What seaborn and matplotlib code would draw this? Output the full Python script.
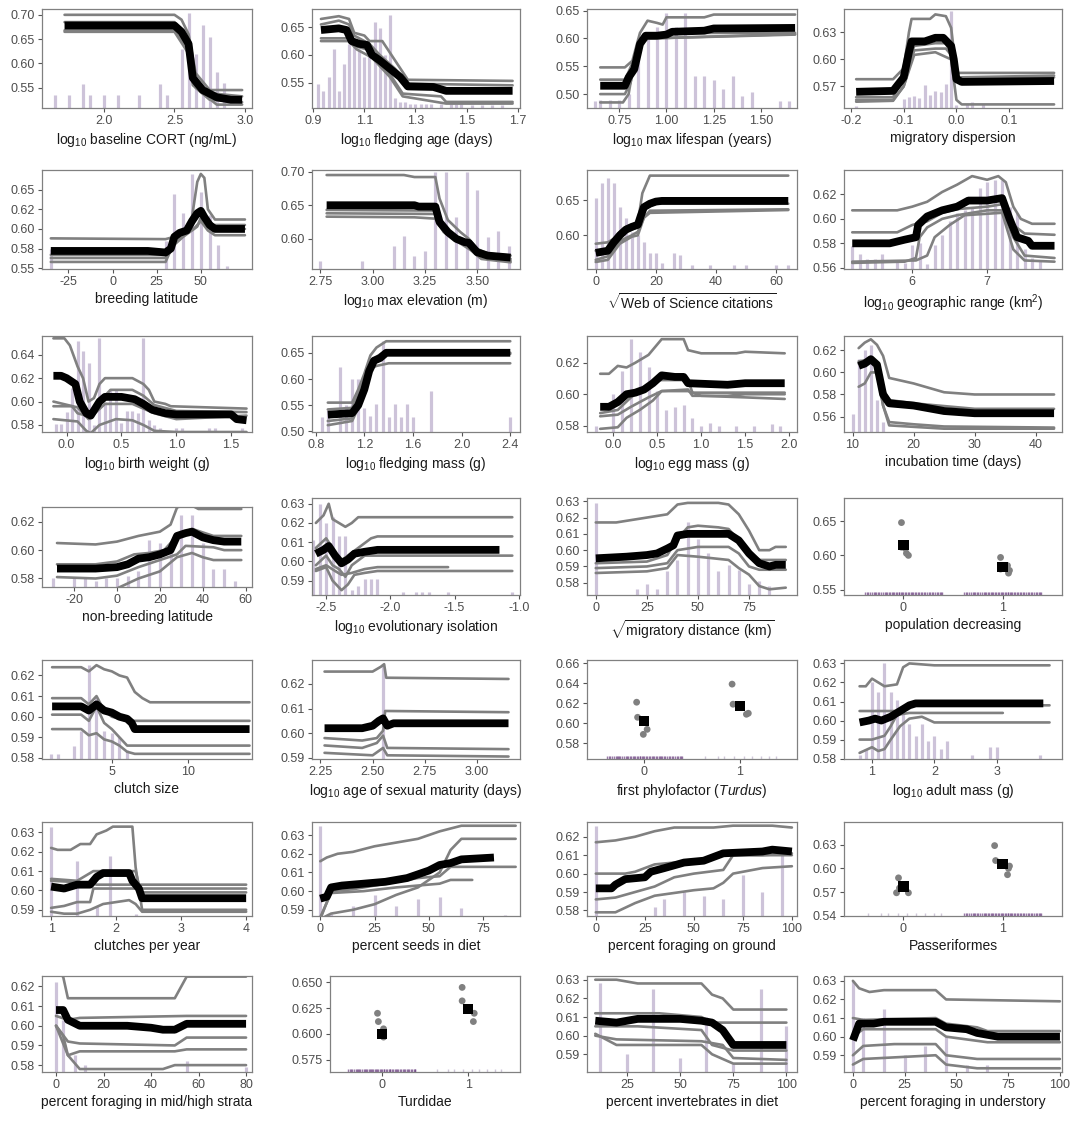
import numpy as np
import pandas as pd
import matplotlib
matplotlib.use("Agg")
import matplotlib.pyplot as plt
import seaborn as sns

sns.set_style("white")
plt.rcParams['font.family'] = ['Liberation Sans', 'DejaVu Sans']
plt.rcParams['mathtext.fontset'] = 'custom'
plt.rcParams['mathtext.rm'] = 'Liberation Sans'
plt.rcParams['mathtext.it'] = 'Liberation Sans:italic'
plt.rcParams['mathtext.bf'] = 'Liberation Sans:bold'

# ---------------- data ----------------
# each continuous panel: histogram bars (x, top), bootstrap curves (gray), mean curve (black)

cort_bars_x = [1.65, 1.75, 1.85, 1.9, 2.0, 2.1, 2.25, 2.4, 2.45, 2.55, 2.6, 2.65, 2.7, 2.75, 2.8, 2.85]
cort_bars_y = [0.535, 0.535, 0.558, 0.535, 0.535, 0.535, 0.535, 0.558, 0.535, 0.63, 0.703, 0.62, 0.679, 0.655, 0.582, 0.559]
cort_mean = [(1.72, 0.678), (2.5, 0.678), (2.55, 0.665), (2.6, 0.64), (2.63, 0.57), (2.7, 0.545), (2.8, 0.53), (2.9, 0.525), (2.98, 0.525)]
cort_reps = [
    [(1.72, 0.70), (2.5, 0.70), (2.55, 0.69), (2.6, 0.66), (2.65, 0.58), (2.75, 0.545), (2.98, 0.545)],
    [(1.72, 0.685), (2.5, 0.685), (2.6, 0.65), (2.63, 0.56), (2.7, 0.54), (2.98, 0.532)],
    [(1.72, 0.668), (2.5, 0.668), (2.6, 0.63), (2.63, 0.555), (2.75, 0.525), (2.98, 0.52)],
    [(1.72, 0.665), (2.5, 0.665), (2.6, 0.62), (2.65, 0.55), (2.8, 0.515), (2.98, 0.515)],
]

fage_bars_x = [0.92, 0.94, 0.96, 0.98, 1.0, 1.02, 1.04, 1.06, 1.08, 1.1, 1.12, 1.14, 1.16, 1.18, 1.2, 1.22, 1.24, 1.26, 1.28, 1.3, 1.32, 1.34, 1.36, 1.4, 1.44, 1.46, 1.48, 1.52, 1.56, 1.6, 1.64]
fage_bars_y = [0.548, 0.535, 0.56, 0.61, 0.535, 0.583, 0.62, 0.625, 0.61, 0.597, 0.612, 0.66, 0.648, 0.60, 0.672, 0.522, 0.515, 0.515, 0.512, 0.512, 0.512, 0.512, 0.512, 0.512, 0.512, 0.512, 0.512, 0.51, 0.51, 0.51, 0.51]
fage_mean = [(0.93, 0.645), (1.0, 0.648), (1.03, 0.645), (1.05, 0.625), (1.08, 0.62), (1.11, 0.618), (1.13, 0.60), (1.16, 0.59), (1.2, 0.575), (1.24, 0.56), (1.27, 0.543), (1.37, 0.542), (1.42, 0.535), (1.68, 0.535)]
fage_reps = [
    [(0.93, 0.665), (1.0, 0.67), (1.04, 0.665), (1.06, 0.64), (1.1, 0.635), (1.12, 0.625), (1.17, 0.625), (1.22, 0.59), (1.27, 0.555), (1.68, 0.553)],
    [(0.93, 0.655), (1.0, 0.662), (1.04, 0.655), (1.06, 0.635), (1.12, 0.62), (1.16, 0.60), (1.22, 0.575), (1.27, 0.548), (1.68, 0.545)],
    [(0.93, 0.63), (1.04, 0.63), (1.07, 0.615), (1.11, 0.61), (1.15, 0.59), (1.2, 0.565), (1.25, 0.53), (1.4, 0.525), (1.42, 0.515), (1.68, 0.515)],
    [(0.93, 0.625), (1.04, 0.625), (1.07, 0.61), (1.13, 0.595), (1.2, 0.56), (1.25, 0.525), (1.42, 0.512), (1.68, 0.512)],
]

life_bars_x = [0.62, 0.65, 0.7, 0.75, 0.8, 0.85, 0.9, 0.95, 1.0, 1.05, 1.1, 1.15, 1.2, 1.25, 1.3, 1.35, 1.4, 1.45, 1.6, 1.65]
life_bars_y = [0.487, 0.49, 0.49, 0.49, 0.50, 0.60, 0.61, 0.62, 0.645, 0.62, 0.645, 0.532, 0.532, 0.525, 0.51, 0.533, 0.497, 0.503, 0.488, 0.488]
life_mean = [(0.65, 0.515), (0.78, 0.515), (0.8, 0.53), (0.83, 0.545), (0.86, 0.59), (0.89, 0.605), (0.95, 0.605), (1.0, 0.607), (1.03, 0.612), (1.2, 0.614), (1.25, 0.618), (1.68, 0.619)]
life_reps = [
    [(0.65, 0.548), (0.78, 0.548), (0.82, 0.56), (0.86, 0.61), (0.9, 0.632), (0.95, 0.628), (0.98, 0.625), (1.0, 0.638), (1.2, 0.638), (1.25, 0.643), (1.68, 0.643)],
    [(0.65, 0.526), (0.78, 0.526), (0.8, 0.54), (0.85, 0.58), (0.88, 0.60), (1.0, 0.605), (1.05, 0.61), (1.68, 0.61)],
    [(0.65, 0.50), (0.78, 0.50), (0.81, 0.52), (0.85, 0.585), (0.9, 0.60), (1.68, 0.607)],
    [(0.65, 0.485), (0.77, 0.485), (0.8, 0.50), (0.84, 0.58), (0.9, 0.60), (1.68, 0.608)],
]

mdisp_bars_x = [-0.19, -0.1, -0.09, -0.08, -0.07, -0.06, -0.05, -0.04, -0.03, -0.02, -0.01, 0.0, 0.02, 0.03, 0.05]
mdisp_bars_y = [0.548, 0.556, 0.558, 0.559, 0.557, 0.572, 0.561, 0.565, 0.564, 0.573, 0.654, 0.549, 0.551, 0.553, 0.55]
mdisp_mean = [(-0.19, 0.564), (-0.12, 0.565), (-0.1, 0.58), (-0.09, 0.608), (-0.085, 0.62), (-0.06, 0.62), (-0.04, 0.624), (-0.025, 0.624), (-0.01, 0.615), (-0.005, 0.60), (0.0, 0.578), (0.01, 0.575), (0.185, 0.576)]
mdisp_reps = [
    [(-0.19, 0.578), (-0.12, 0.578), (-0.1, 0.59), (-0.09, 0.63), (-0.085, 0.645), (-0.05, 0.645), (-0.04, 0.65), (-0.02, 0.648), (-0.01, 0.635), (0.0, 0.585), (0.185, 0.585)],
    [(-0.19, 0.558), (-0.12, 0.558), (-0.1, 0.58), (-0.08, 0.615), (-0.04, 0.618), (-0.02, 0.618), (-0.01, 0.605), (0.0, 0.58), (0.185, 0.582)],
    [(-0.19, 0.555), (-0.12, 0.555), (-0.1, 0.57), (-0.08, 0.61), (-0.04, 0.612), (-0.02, 0.612), (-0.01, 0.605), (0.0, 0.578), (0.185, 0.580)],
    [(-0.19, 0.553), (-0.12, 0.554), (-0.1, 0.57), (-0.08, 0.605), (-0.04, 0.608), (-0.01, 0.60), (0.0, 0.555), (0.01, 0.550), (0.185, 0.550)],
]

blat_bars_x = [-35, 30, 35, 40, 45, 50, 55, 60, 65]
blat_bars_y = [0.575, 0.585, 0.645, 0.62, 0.67, 0.647, 0.618, 0.58, 0.553]
blat_mean = [(-35, 0.572), (20, 0.572), (30, 0.570), (33, 0.575), (35, 0.59), (38, 0.595), (42, 0.598), (45, 0.61), (48, 0.62), (50, 0.623), (52, 0.615), (55, 0.605), (58, 0.600), (75, 0.600)]
blat_reps = [
    [(-35, 0.588), (30, 0.587), (35, 0.59), (40, 0.595), (45, 0.615), (48, 0.66), (50, 0.67), (52, 0.665), (54, 0.625), (58, 0.612), (75, 0.612)],
    [(-35, 0.567), (30, 0.567), (35, 0.585), (40, 0.598), (45, 0.605), (50, 0.623), (53, 0.615), (57, 0.605), (75, 0.605)],
    [(-35, 0.563), (30, 0.563), (34, 0.58), (40, 0.592), (46, 0.6), (50, 0.61), (54, 0.598), (58, 0.592), (75, 0.592)],
    [(-35, 0.558), (30, 0.558), (34, 0.578), (40, 0.59), (48, 0.603), (51, 0.62), (55, 0.6), (58, 0.6), (75, 0.6)],
]

elev_bars_x = [2.75, 2.95, 3.1, 3.15, 3.2, 3.25, 3.3, 3.35, 3.4, 3.45, 3.5, 3.55, 3.6, 3.65]
elev_bars_y = [0.567, 0.567, 0.589, 0.604, 0.575, 0.582, 0.70, 0.70, 0.633, 0.70, 0.672, 0.603, 0.611, 0.59]
elev_mean = [(2.78, 0.65), (3.2, 0.65), (3.22, 0.648), (3.3, 0.648), (3.32, 0.625), (3.36, 0.61), (3.4, 0.60), (3.44, 0.595), (3.46, 0.594), (3.5, 0.58), (3.55, 0.575), (3.66, 0.572)]
elev_reps = [
    [(2.78, 0.695), (3.15, 0.695), (3.2, 0.692), (3.3, 0.692), (3.32, 0.66), (3.36, 0.628), (3.42, 0.61), (3.46, 0.60), (3.5, 0.585), (3.55, 0.578), (3.66, 0.575)],
    [(2.78, 0.643), (3.3, 0.642), (3.32, 0.62), (3.38, 0.605), (3.45, 0.595), (3.5, 0.58), (3.66, 0.57)],
    [(2.78, 0.638), (3.3, 0.637), (3.34, 0.618), (3.4, 0.60), (3.46, 0.59), (3.5, 0.575), (3.66, 0.567)],
    [(2.78, 0.633), (3.2, 0.632), (3.3, 0.630), (3.34, 0.61), (3.4, 0.597), (3.47, 0.583), (3.52, 0.57), (3.66, 0.565)],
]

wos_bars_x = [0, 2, 4, 6, 8, 10, 12, 14, 16, 18, 20, 22, 26, 28, 32, 38, 46, 50, 60, 64]
wos_bars_y = [0.653, 0.675, 0.682, 0.675, 0.64, 0.625, 0.605, 0.60, 0.59, 0.575, 0.575, 0.56, 0.575, 0.572, 0.558, 0.558, 0.558, 0.558, 0.558, 0.558]
wos_mean = [(0, 0.575), (4, 0.578), (6, 0.59), (8, 0.60), (10, 0.608), (12, 0.612), (14, 0.615), (15, 0.628), (16, 0.64), (18, 0.645), (20, 0.648), (22, 0.649), (64, 0.649)]
wos_reps = [
    [(0, 0.588), (4, 0.59), (6, 0.595), (8, 0.605), (10, 0.612), (14, 0.618), (15.5, 0.66), (17, 0.675), (18, 0.685), (64, 0.685)],
    [(0, 0.578), (4, 0.58), (6, 0.59), (9, 0.603), (12, 0.608), (14, 0.612), (15.5, 0.63), (17, 0.64), (20, 0.645), (64, 0.645)],
    [(0, 0.565), (4, 0.57), (8, 0.592), (12, 0.60), (14, 0.605), (16, 0.625), (18, 0.635), (64, 0.637)],
    [(0, 0.562), (4, 0.565), (8, 0.588), (12, 0.598), (14, 0.60), (16, 0.625), (18, 0.632), (64, 0.636)],
]

grange_bars_x = [5.2, 5.3, 5.4, 5.5, 5.6, 5.8, 5.9, 6.0, 6.1, 6.2, 6.3, 6.4, 6.5, 6.6, 6.7, 6.8, 6.9, 7.0, 7.1, 7.2, 7.3, 7.4, 7.5, 7.6, 7.7]
grange_bars_y = [0.578, 0.571, 0.567, 0.567, 0.571, 0.566, 0.564, 0.579, 0.58, 0.563, 0.579, 0.587, 0.598, 0.605, 0.607, 0.61, 0.625, 0.63, 0.632, 0.632, 0.61, 0.605, 0.575, 0.568, 0.566]
grange_mean = [(5.2, 0.58), (5.7, 0.58), (5.9, 0.583), (6.05, 0.585), (6.08, 0.595), (6.2, 0.602), (6.4, 0.607), (6.6, 0.61), (6.75, 0.615), (7.0, 0.615), (7.2, 0.617), (7.3, 0.60), (7.4, 0.585), (7.55, 0.582), (7.6, 0.578), (7.9, 0.578)]
grange_reps = [
    [(5.2, 0.607), (5.8, 0.607), (6.0, 0.61), (6.2, 0.614), (6.4, 0.622), (6.6, 0.628), (6.8, 0.635), (7.0, 0.632), (7.15, 0.635), (7.25, 0.63), (7.35, 0.61), (7.45, 0.6), (7.6, 0.596), (7.9, 0.596)],
    [(5.2, 0.589), (5.8, 0.589), (6.0, 0.595), (6.2, 0.598), (6.4, 0.605), (6.6, 0.608), (7.0, 0.61), (7.2, 0.612), (7.35, 0.595), (7.5, 0.588), (7.9, 0.587)],
    [(5.2, 0.564), (5.9, 0.565), (6.05, 0.568), (6.1, 0.585), (6.2, 0.593), (6.4, 0.6), (6.6, 0.603), (7.0, 0.607), (7.2, 0.607), (7.35, 0.585), (7.5, 0.57), (7.9, 0.568)],
    [(5.2, 0.565), (6.05, 0.566), (6.2, 0.57), (6.3, 0.585), (6.5, 0.595), (6.7, 0.603), (7.2, 0.605), (7.35, 0.575), (7.5, 0.566), (7.9, 0.565)],
]

bw_bars_x = [-0.1, -0.05, 0.0, 0.05, 0.1, 0.15, 0.2, 0.25, 0.3, 0.35, 0.4, 0.45, 0.5, 0.55, 0.6, 0.65, 0.7, 0.75, 0.8, 0.85, 1.0, 1.05, 1.3, 1.35, 1.6]
bw_bars_y = [0.581, 0.581, 0.591, 0.612, 0.652, 0.643, 0.633, 0.58, 0.654, 0.60, 0.61, 0.61, 0.582, 0.592, 0.592, 0.59, 0.654, 0.584, 0.58, 0.577, 0.577, 0.577, 0.577, 0.577, 0.577]
bw_mean = [(-0.12, 0.622), (-0.05, 0.622), (0.0, 0.62), (0.08, 0.615), (0.12, 0.60), (0.18, 0.59), (0.22, 0.588), (0.3, 0.6), (0.35, 0.604), (0.5, 0.604), (0.62, 0.602), (0.7, 0.598), (0.78, 0.593), (0.9, 0.590), (1.0, 0.589), (1.5, 0.589), (1.55, 0.585), (1.64, 0.584)]
bw_reps = [
    [(-0.12, 0.654), (-0.02, 0.654), (0.03, 0.648), (0.1, 0.63), (0.15, 0.62), (0.2, 0.60), (0.25, 0.603), (0.3, 0.615), (0.35, 0.62), (0.6, 0.62), (0.7, 0.615), (0.75, 0.61), (0.8, 0.6), (0.9, 0.598), (0.95, 0.596), (1.64, 0.594)],
    [(-0.12, 0.596), (0.05, 0.596), (0.1, 0.59), (0.18, 0.588), (0.3, 0.60), (0.4, 0.61), (0.6, 0.61), (0.7, 0.605), (0.8, 0.597), (1.0, 0.592), (1.64, 0.591)],
    [(-0.12, 0.60), (0.1, 0.595), (0.2, 0.585), (0.35, 0.598), (0.6, 0.598), (0.8, 0.59), (1.0, 0.585), (1.64, 0.588)],
    [(-0.12, 0.585), (0.1, 0.583), (0.18, 0.575), (0.22, 0.573), (0.3, 0.58), (0.45, 0.585), (0.6, 0.584), (0.7, 0.58), (0.8, 0.575), (1.0, 0.574), (1.64, 0.574)],
]

fmass_bars_x = [0.85, 0.9, 1.0, 1.05, 1.1, 1.15, 1.2, 1.25, 1.3, 1.35, 1.4, 1.45, 1.5, 1.55, 1.6, 1.75, 2.4]
fmass_bars_y = [0.528, 0.54, 0.622, 0.55, 0.60, 0.60, 0.545, 0.53, 0.553, 0.673, 0.528, 0.553, 0.528, 0.553, 0.528, 0.577, 0.528]
fmass_mean = [(0.9, 0.532), (1.1, 0.535), (1.15, 0.55), (1.2, 0.58), (1.24, 0.615), (1.28, 0.635), (1.33, 0.64), (1.38, 0.65), (2.4, 0.65)]
fmass_reps = [
    [(0.9, 0.555), (1.1, 0.555), (1.15, 0.58), (1.2, 0.61), (1.25, 0.645), (1.3, 0.66), (1.38, 0.672), (2.4, 0.672)],
    [(0.9, 0.542), (1.1, 0.545), (1.15, 0.57), (1.2, 0.6), (1.25, 0.635), (1.35, 0.65), (2.4, 0.65)],
    [(0.9, 0.52), (1.1, 0.525), (1.15, 0.55), (1.2, 0.575), (1.25, 0.62), (1.3, 0.625), (1.4, 0.63), (2.4, 0.63)],
    [(0.9, 0.512), (1.1, 0.52), (1.15, 0.545), (1.2, 0.585), (1.25, 0.62), (1.35, 0.647), (2.4, 0.648)],
]

egg_bars_x = [-0.2, 0.0, 0.1, 0.2, 0.3, 0.4, 0.5, 0.6, 0.7, 0.8, 0.9, 1.0, 1.1, 1.2, 1.4, 1.6, 1.8, 1.9]
egg_bars_y = [0.58, 0.60, 0.615, 0.635, 0.627, 0.617, 0.602, 0.59, 0.592, 0.593, 0.585, 0.58, 0.582, 0.58, 0.58, 0.58, 0.581, 0.58]
egg_mean = [(-0.15, 0.592), (-0.05, 0.592), (0.05, 0.595), (0.15, 0.6), (0.25, 0.601), (0.35, 0.603), (0.45, 0.607), (0.55, 0.612), (0.7, 0.611), (0.8, 0.611), (0.85, 0.607), (1.3, 0.606), (1.5, 0.607), (1.95, 0.607)]
egg_reps = [
    [(-0.15, 0.613), (-0.05, 0.613), (0.05, 0.618), (0.15, 0.617), (0.25, 0.62), (0.4, 0.625), (0.55, 0.635), (0.8, 0.635), (0.85, 0.628), (1.0, 0.626), (1.4, 0.626), (1.5, 0.627), (1.95, 0.626)],
    [(-0.15, 0.588), (0.05, 0.59), (0.2, 0.598), (0.35, 0.604), (0.5, 0.609), (0.85, 0.609), (0.9, 0.601), (1.3, 0.601), (1.95, 0.601)],
    [(-0.15, 0.586), (0.05, 0.587), (0.2, 0.592), (0.4, 0.598), (0.55, 0.602), (0.85, 0.603), (0.9, 0.599), (1.3, 0.599), (1.5, 0.6), (1.95, 0.6)],
    [(-0.15, 0.578), (0.05, 0.579), (0.15, 0.585), (0.3, 0.59), (0.45, 0.596), (0.55, 0.602), (0.85, 0.602), (1.0, 0.599), (1.5, 0.598), (1.95, 0.597)],
]

incub_bars_x = [10, 11, 12, 13, 14, 15]
incub_bars_y = [0.562, 0.612, 0.62, 0.625, 0.575, 0.555]
incub_mean = [(11, 0.606), (12, 0.608), (13, 0.612), (14, 0.607), (15, 0.58), (16, 0.572), (20, 0.57), (25, 0.565), (30, 0.563), (43, 0.563)]
incub_reps = [
    [(11, 0.622), (12, 0.627), (13, 0.63), (14, 0.625), (15, 0.615), (16, 0.595), (20, 0.59), (25, 0.582), (30, 0.58), (43, 0.58)],
    [(11, 0.61), (13, 0.612), (14, 0.605), (15, 0.585), (16, 0.575), (20, 0.572), (30, 0.567), (43, 0.567)],
    [(11, 0.587), (12, 0.59), (13, 0.6), (14, 0.6), (15, 0.57), (16, 0.555), (20, 0.553), (25, 0.551), (43, 0.55)],
    [(11, 0.608), (13, 0.61), (14, 0.605), (15, 0.57), (16, 0.552), (25, 0.549), (43, 0.549)],
]

nblat_bars_x = [-30, -20, -15, -10, -5, 0, 5, 10, 15, 20, 25, 30, 35, 40, 45, 50, 55]
nblat_bars_y = [0.58, 0.581, 0.58, 0.578, 0.58, 0.58, 0.582, 0.585, 0.607, 0.605, 0.60, 0.625, 0.625, 0.605, 0.587, 0.587, 0.578]
nblat_mean = [(-28, 0.587), (-10, 0.587), (0, 0.588), (5, 0.59), (10, 0.594), (15, 0.595), (20, 0.597), (25, 0.6), (28, 0.61), (32, 0.612), (35, 0.613), (40, 0.609), (45, 0.607), (50, 0.606), (58, 0.606)]
nblat_reps = [
    [(-28, 0.605), (-10, 0.604), (0, 0.606), (10, 0.61), (20, 0.613), (25, 0.618), (28, 0.63), (33, 0.633), (38, 0.629), (58, 0.629)],
    [(-28, 0.59), (-10, 0.59), (0, 0.592), (8, 0.597), (15, 0.598), (22, 0.6), (28, 0.61), (35, 0.615), (45, 0.61), (58, 0.61)],
    [(-28, 0.581), (-10, 0.58), (0, 0.582), (10, 0.588), (20, 0.593), (28, 0.597), (32, 0.603), (45, 0.602), (50, 0.6), (58, 0.6)],
    [(-28, 0.573), (-10, 0.572), (0, 0.573), (10, 0.58), (20, 0.585), (28, 0.595), (35, 0.598), (40, 0.595), (45, 0.593), (58, 0.593)],
]

evo_bars_x = [-2.6, -2.55, -2.5, -2.45, -2.4, -2.35, -2.3, -2.25, -2.2, -2.15, -2.1, -1.9, -1.8, -1.75, -1.7, -1.55, -1.05]
evo_bars_y = [0.611, 0.63, 0.62, 0.623, 0.613, 0.613, 0.585, 0.587, 0.591, 0.591, 0.591, 0.584, 0.584, 0.584, 0.584, 0.584, 0.584]
evo_mean = [(-2.58, 0.604), (-2.52, 0.606), (-2.48, 0.608), (-2.43, 0.603), (-2.38, 0.599), (-2.33, 0.601), (-2.28, 0.604), (-2.2, 0.605), (-2.1, 0.606), (-1.15, 0.606)]
evo_reps = [
    [(-2.58, 0.62), (-2.52, 0.624), (-2.48, 0.63), (-2.45, 0.622), (-2.4, 0.62), (-2.35, 0.618), (-2.3, 0.62), (-2.25, 0.623), (-2.1, 0.623), (-1.05, 0.623)],
    [(-2.58, 0.607), (-2.5, 0.612), (-2.45, 0.607), (-2.4, 0.6), (-2.35, 0.602), (-2.25, 0.607), (-2.15, 0.612), (-2.1, 0.613), (-1.05, 0.613)],
    [(-2.58, 0.598), (-2.5, 0.603), (-2.45, 0.598), (-2.4, 0.596), (-2.35, 0.592), (-2.3, 0.598), (-2.2, 0.603), (-1.05, 0.603)],
    [(-2.58, 0.596), (-2.5, 0.598), (-2.43, 0.595), (-2.38, 0.593), (-2.3, 0.594), (-2.2, 0.596), (-2.1, 0.597), (-1.55, 0.597)],
    [(-2.58, 0.595), (-2.5, 0.597), (-2.45, 0.59), (-2.38, 0.585), (-2.33, 0.588), (-2.28, 0.593), (-2.2, 0.594), (-2.1, 0.595), (-1.05, 0.595)],
]

mdist_bars_x = [0, 20, 25, 30, 35, 40, 45, 50, 55, 60, 65, 70, 75, 80, 85]
mdist_bars_y = [0.629, 0.576, 0.579, 0.576, 0.587, 0.594, 0.617, 0.607, 0.598, 0.587, 0.591, 0.588, 0.579, 0.581, 0.578]
mdist_mean = [(0, 0.595), (15, 0.596), (25, 0.597), (30, 0.598), (35, 0.601), (38, 0.603), (40, 0.609), (45, 0.61), (55, 0.61), (65, 0.61), (70, 0.606), (75, 0.598), (80, 0.592), (85, 0.59), (88, 0.591), (93, 0.591)]
mdist_reps = [
    [(0, 0.617), (10, 0.617), (15, 0.618), (25, 0.62), (35, 0.622), (40, 0.628), (45, 0.629), (60, 0.629), (65, 0.628), (70, 0.622), (75, 0.612), (80, 0.6), (85, 0.6), (88, 0.602), (93, 0.602)],
    [(0, 0.592), (25, 0.593), (35, 0.597), (40, 0.607), (45, 0.614), (50, 0.615), (60, 0.614), (65, 0.613), (70, 0.606), (75, 0.598), (80, 0.594), (93, 0.594)],
    [(0, 0.589), (25, 0.59), (35, 0.592), (40, 0.6), (50, 0.602), (65, 0.602), (70, 0.598), (75, 0.59), (80, 0.588), (93, 0.588)],
    [(0, 0.586), (25, 0.587), (35, 0.589), (40, 0.597), (50, 0.596), (65, 0.594), (70, 0.589), (75, 0.585), (80, 0.578), (85, 0.576), (93, 0.577)],
]

clutch_bars_x = [1.0, 1.5, 2.5, 3.0, 3.5, 4.0, 4.5, 5.0, 5.5, 6.0]
clutch_bars_y = [0.582, 0.582, 0.586, 0.593, 0.625, 0.61, 0.593, 0.592, 0.59, 0.584]
clutch_mean = [(1.1, 0.605), (3, 0.605), (3.5, 0.603), (4, 0.606), (4.5, 0.603), (5, 0.602), (5.5, 0.6), (6, 0.599), (6.3, 0.597), (6.5, 0.594), (14, 0.594)]
clutch_reps = [
    [(1.1, 0.624), (3, 0.624), (3.5, 0.622), (4, 0.625), (4.5, 0.623), (5, 0.622), (5.5, 0.62), (6, 0.619), (6.5, 0.612), (7, 0.609), (7.5, 0.607), (14, 0.607)],
    [(1.1, 0.609), (3, 0.609), (3.5, 0.606), (4, 0.61), (4.5, 0.603), (5, 0.60), (5.5, 0.599), (6, 0.598), (14, 0.598)],
    [(1.1, 0.601), (3, 0.601), (3.5, 0.598), (4, 0.605), (4.5, 0.597), (5, 0.594), (5.5, 0.59), (6, 0.586), (14, 0.586)],
    [(1.1, 0.594), (3, 0.594), (3.5, 0.591), (4, 0.592), (4.5, 0.589), (5, 0.588), (5.5, 0.586), (6, 0.583), (6.5, 0.582), (14, 0.582)],
]

smat_bars_x = [2.55]
smat_bars_y = [0.628]
smat_mean = [(2.27, 0.602), (2.45, 0.602), (2.5, 0.603), (2.53, 0.605), (2.55, 0.606), (2.57, 0.603), (2.6, 0.604), (3.15, 0.604)]
smat_reps = [
    [(2.27, 0.625), (2.5, 0.625), (2.54, 0.627), (2.555, 0.628), (2.565, 0.6225), (3.15, 0.622)],
    [(2.27, 0.598), (2.45, 0.597), (2.52, 0.598), (2.55, 0.601), (2.56, 0.609), (3.15, 0.6085)],
    [(2.27, 0.595), (2.45, 0.594), (2.52, 0.596), (2.55, 0.599), (2.57, 0.594), (3.15, 0.5935)],
    [(2.27, 0.592), (2.5, 0.591), (2.55, 0.594), (2.57, 0.591), (3.15, 0.5905)],
]

amass_bars_x = [0.8, 0.9, 1.0, 1.1, 1.2, 1.3, 1.4, 1.5, 1.6, 1.7, 1.8, 1.9, 2.0, 2.1, 2.2, 2.6, 2.9, 3.0, 3.7]
amass_bars_y = [0.582, 0.585, 0.62, 0.615, 0.63, 0.615, 0.611, 0.605, 0.598, 0.592, 0.598, 0.589, 0.592, 0.585, 0.589, 0.582, 0.586, 0.586, 0.582]
amass_mean = [(0.8, 0.599), (0.95, 0.6), (1.05, 0.601), (1.15, 0.6), (1.3, 0.602), (1.4, 0.604), (1.5, 0.606), (1.6, 0.608), (1.7, 0.609), (1.8, 0.609), (3.75, 0.609)]
amass_reps = [
    [(0.8, 0.618), (0.9, 0.618), (1.0, 0.622), (1.1, 0.62), (1.2, 0.618), (1.4, 0.619), (1.5, 0.628), (1.6, 0.63), (2.0, 0.629), (3.85, 0.629)],
    [(0.8, 0.605), (1.4, 0.605), (1.5, 0.607), (1.6, 0.608), (3.85, 0.608)],
    [(0.8, 0.59), (1.0, 0.59), (1.2, 0.592), (1.3, 0.597), (1.4, 0.603), (1.6, 0.604), (3.1, 0.604)],
    [(0.8, 0.583), (1.0, 0.586), (1.1, 0.584), (1.2, 0.585), (1.3, 0.59), (1.45, 0.597), (1.6, 0.601), (1.8, 0.602), (2.0, 0.599), (3.85, 0.599)],
]

cpy_bars_x = [1.0, 1.4, 1.7, 1.9, 2.3]
cpy_bars_y = [0.633, 0.615, 0.592, 0.618, 0.588]
cpy_mean = [(1.0, 0.602), (1.2, 0.601), (1.4, 0.603), (1.6, 0.603), (1.7, 0.607), (1.8, 0.609), (2.2, 0.609), (2.25, 0.605), (2.35, 0.601), (2.4, 0.596), (4.0, 0.596)]
cpy_reps = [
    [(1.0, 0.622), (1.1, 0.621), (1.3, 0.621), (1.45, 0.624), (1.6, 0.624), (1.7, 0.629), (1.85, 0.631), (1.95, 0.633), (2.25, 0.633), (2.3, 0.612), (2.4, 0.59), (4.0, 0.590)],
    [(1.0, 0.606), (1.4, 0.605), (1.65, 0.61), (2.3, 0.61), (2.35, 0.603), (4.0, 0.603)],
    [(1.0, 0.605), (1.6, 0.604), (1.7, 0.603), (2.3, 0.603), (2.4, 0.601), (4.0, 0.601)],
    [(1.0, 0.591), (1.2, 0.592), (1.4, 0.594), (1.6, 0.594), (1.65, 0.601), (2.3, 0.601), (2.4, 0.599), (4.0, 0.599)],
    [(1.0, 0.589), (1.2, 0.588), (1.4, 0.588), (1.6, 0.59), (1.8, 0.593), (2.2, 0.595), (2.3, 0.593), (2.4, 0.589), (4.0, 0.589)],
]

seeds_bars_x = [0, 5, 15, 25, 35, 45, 55, 65, 85]
seeds_bars_y = [0.635, 0.588, 0.592, 0.598, 0.592, 0.596, 0.597, 0.591, 0.587]
seeds_mean = [(0, 0.596), (3, 0.597), (5, 0.602), (10, 0.603), (20, 0.604), (30, 0.605), (40, 0.607), (45, 0.609), (50, 0.611), (55, 0.614), (60, 0.615), (65, 0.617), (80, 0.618)]
seeds_reps = [
    [(0, 0.616), (3, 0.618), (8, 0.62), (15, 0.621), (25, 0.624), (35, 0.626), (45, 0.628), (55, 0.632), (65, 0.635), (90, 0.635)],
    [(0, 0.585), (5, 0.588), (15, 0.59), (25, 0.593), (35, 0.598), (45, 0.602), (55, 0.61), (60, 0.622), (65, 0.628), (90, 0.628)],
    [(0, 0.585), (5, 0.6), (15, 0.601), (25, 0.603), (35, 0.605), (45, 0.607), (55, 0.608), (60, 0.613), (90, 0.613)],
    [(0, 0.586), (5, 0.599), (20, 0.6), (35, 0.602), (45, 0.603), (55, 0.604), (60, 0.606), (70, 0.606)],
]

ground_bars_x = [0, 30, 35, 45, 55, 65, 75, 85, 95]
ground_bars_y = [0.626, 0.582, 0.586, 0.59, 0.588, 0.586, 0.599, 0.59, 0.61]
ground_mean = [(0, 0.592), (8, 0.592), (10, 0.594), (15, 0.597), (25, 0.598), (28, 0.601), (35, 0.603), (45, 0.606), (55, 0.607), (65, 0.611), (85, 0.612), (90, 0.613), (100, 0.612)]
ground_reps = [
    [(0, 0.617), (10, 0.618), (20, 0.62), (30, 0.623), (40, 0.625), (60, 0.625), (70, 0.626), (90, 0.626), (100, 0.625)],
    [(0, 0.60), (15, 0.6), (20, 0.601), (30, 0.605), (50, 0.607), (65, 0.61), (85, 0.61), (100, 0.611)],
    [(0, 0.586), (10, 0.587), (20, 0.59), (30, 0.593), (40, 0.598), (50, 0.6), (65, 0.602), (70, 0.61), (100, 0.61)],
    [(0, 0.579), (10, 0.579), (20, 0.584), (30, 0.588), (50, 0.591), (60, 0.592), (65, 0.595), (70, 0.6), (85, 0.603), (100, 0.604)],
]

midhigh_bars_x = [0, 3, 8, 12, 55, 80]
midhigh_bars_y = [0.622, 0.603, 0.585, 0.58, 0.582, 0.579]
midhigh_mean = [(0, 0.608), (3, 0.608), (5, 0.603), (10, 0.600), (20, 0.6), (30, 0.6), (40, 0.599), (45, 0.598), (50, 0.598), (55, 0.601), (80, 0.601)]
midhigh_reps = [
    [(0, 0.627), (3, 0.625), (5, 0.614), (20, 0.614), (50, 0.614), (55, 0.625), (80, 0.625)],
    [(0, 0.605), (5, 0.603), (10, 0.604), (55, 0.605), (80, 0.605)],
    [(0, 0.6), (5, 0.592), (10, 0.591), (50, 0.59), (55, 0.594), (80, 0.594)],
    [(0, 0.6), (3, 0.595), (5, 0.585), (10, 0.587), (50, 0.587), (55, 0.588), (80, 0.588)],
    [(0, 0.6), (5, 0.585), (10, 0.578), (45, 0.578), (50, 0.58), (55, 0.58), (80, 0.58)],
]

invert_bars_x = [12, 25, 37, 50, 62, 75, 88, 100]
invert_bars_y = [0.628, 0.59, 0.625, 0.588, 0.61, 0.585, 0.625, 0.605]
invert_mean = [(10, 0.608), (20, 0.607), (30, 0.609), (50, 0.609), (60, 0.608), (65, 0.607), (70, 0.603), (75, 0.595), (100, 0.595)]
invert_reps = [
    [(10, 0.63), (20, 0.63), (30, 0.628), (60, 0.628), (65, 0.622), (70, 0.62), (75, 0.614), (100, 0.614)],
    [(10, 0.612), (40, 0.612), (60, 0.61), (65, 0.607), (75, 0.607), (100, 0.607)],
    [(10, 0.605), (30, 0.605), (60, 0.603), (65, 0.595), (75, 0.592), (100, 0.592)],
    [(10, 0.601), (20, 0.595), (60, 0.595), (65, 0.59), (75, 0.585), (100, 0.585)],
    [(10, 0.6), (20, 0.598), (60, 0.597), (70, 0.595), (75, 0.588), (100, 0.587)],
]

under_bars_x = [0, 5, 15, 25, 35, 45, 55, 65]
under_bars_y = [0.63, 0.61, 0.615, 0.59, 0.595, 0.60, 0.585, 0.585]
under_mean = [(0, 0.598), (3, 0.607), (10, 0.607), (15, 0.608), (40, 0.608), (45, 0.605), (55, 0.604), (60, 0.602), (65, 0.601), (70, 0.600), (100, 0.600)]
under_reps = [
    [(0, 0.63), (3, 0.626), (8, 0.624), (15, 0.625), (40, 0.625), (45, 0.62), (100, 0.619)],
    [(0, 0.61), (5, 0.609), (40, 0.61), (45, 0.607), (60, 0.605), (65, 0.603), (100, 0.603)],
    [(0, 0.6), (5, 0.604), (40, 0.604), (45, 0.6), (65, 0.597), (100, 0.597)],
    [(0, 0.59), (5, 0.595), (20, 0.596), (40, 0.596), (45, 0.59), (60, 0.588), (100, 0.588)],
    [(0, 0.585), (5, 0.588), (40, 0.59), (45, 0.585), (60, 0.583), (100, 0.583)],
]

# categorical panels: bootstrap points (gray), mean (black square), rug of observations (jittered)
rug_dense = [-0.39, -0.37, -0.36, -0.34, -0.32, -0.3, -0.29, -0.28, -0.26, -0.25, -0.23, -0.21, -0.19, -0.18, -0.17,
             -0.15, -0.14, -0.12, -0.11, -0.1, -0.08, -0.07, -0.05, -0.04, -0.02, -0.01, 0.0, 0.02, 0.03, 0.05, 0.06,
             0.08, 0.09, 0.1, 0.12, 0.13, 0.15, 0.16, 0.18, 0.19, 0.21, 0.22, 0.24, 0.26, 0.27, 0.29, 0.3, 0.32,
             0.34, 0.35, 0.37, 0.38, 0.39]
rug_sparse = [-0.36, -0.23, -0.16, -0.06, 0.04, 0.13, 0.22, 0.31, 0.38]

popdec_pts_x = [-0.02, -0.02, 0.02, 0.03, 0.05, 0.98, 0.98, 1.05, 1.07, 1.06]
popdec_pts_y = [0.648, 0.612, 0.61, 0.603, 0.600, 0.597, 0.580, 0.585, 0.578, 0.574]
popdec_mean = [0.615, 0.583]

turdus_pts_x = [-0.08, -0.07, 0.03, -0.01, 0.92, 0.93, 1.07, 1.09]
turdus_pts_y = [0.621, 0.606, 0.594, 0.589, 0.639, 0.619, 0.609, 0.61]
turdus_mean = [0.602, 0.617]

passer_pts_x = [-0.05, -0.07, -0.04, 0.05, 0.92, 0.93, 1.07, 1.06, 1.05]
passer_pts_y = [0.588, 0.569, 0.575, 0.569, 0.629, 0.61, 0.603, 0.600, 0.592]
passer_mean = [0.577, 0.606]

turdidae_pts_x = [-0.05, -0.04, 0.02, 0.02, 0.93, 0.93, 1.07, 1.06]
turdidae_pts_y = [0.62, 0.612, 0.605, 0.597, 0.645, 0.632, 0.62, 0.612]
turdidae_mean = [0.600, 0.624]

# ---------------- drawing ----------------
BAR = '#cdc3d9'
GRAY = '#808080'
RUG_DARK = '#6b3f80'
RUG_LIGHT = '#bdb0ca'

W, H = 1072, 1127
col_left = [42, 312, 587, 844]
col_right = [252, 520, 797, 1062]
row_top = [9, 170, 336, 498, 660, 822, 976]
row_bot = [108, 269, 432, 595, 759, 916, 1072]

L10 = r'log$_{10}$ '


def f1(v):
    return ['%.1f' % t for t in v]


def f2(v):
    return ['%.2f' % t for t in v]


def f0(v):
    return ['%d' % t for t in v]


panels = [
    dict(kind='c', bars=(cort_bars_x, cort_bars_y), mean=cort_mean, reps=cort_reps, label=L10 + 'baseline CORT (ng/mL)',
         xlim=(1.56, 3.05), xt=[2.0, 2.5, 3.0], xl=f1, ylim=(0.508, 0.712), yt=[0.55, 0.60, 0.65, 0.70], yl=f2),
    dict(kind='c', bars=(fage_bars_x, fage_bars_y), mean=fage_mean, reps=fage_reps, label=L10 + 'fledging age (days)',
         xlim=(0.895, 1.709), xt=[0.9, 1.1, 1.3, 1.5, 1.7], xl=f1, ylim=(0.504, 0.683), yt=[0.55, 0.60, 0.65], yl=f2),
    dict(kind='c', bars=(life_bars_x, life_bars_y), mean=life_mean, reps=life_reps, label=L10 + 'max lifespan (years)',
         xlim=(0.58, 1.69), xt=[0.75, 1.0, 1.25, 1.5], xl=f2, ylim=(0.475, 0.653), yt=[0.50, 0.55, 0.60, 0.65], yl=f2),
    dict(kind='c', bars=(mdisp_bars_x, mdisp_bars_y), mean=mdisp_mean, reps=mdisp_reps, label='migratory dispersion',
         xlim=(-0.213, 0.2), xt=[-0.2, -0.1, 0.0, 0.1], xl=f1, ylim=(0.546, 0.656), yt=[0.57, 0.60, 0.63], yl=f2),

    dict(kind='c', bars=(blat_bars_x, blat_bars_y), mean=blat_mean, reps=blat_reps, label='breeding latitude',
         xlim=(-40, 79), xt=[-25, 0, 25, 50], xl=f0, ylim=(0.549, 0.675), yt=[0.55, 0.575, 0.60, 0.625, 0.65],
         yl=lambda v: ['0.55', '0.58', '0.60', '0.62', '0.65']),
    dict(kind='c', bars=(elev_bars_x, elev_bars_y), mean=elev_mean, reps=elev_reps, label=L10 + 'max elevation (m)',
         xlim=(2.71, 3.705), xt=[2.75, 3.0, 3.25, 3.5], xl=f2, ylim=(0.555, 0.7025), yt=[0.60, 0.65, 0.70], yl=f2),
    dict(kind='c', bars=(wos_bars_x, wos_bars_y), mean=wos_mean, reps=wos_reps,
         label=r'$\sqrt{\mathrm{Web\ of\ Science\ citations}}$',
         xlim=(-2.9, 66.9), xt=[0, 20, 40, 60], xl=f0, ylim=(0.552, 0.693), yt=[0.60, 0.65], yl=f2),
    dict(kind='c', bars=(grange_bars_x, grange_bars_y), mean=grange_mean, reps=grange_reps,
         label=L10 + r'geographic range (km$^2$)',
         xlim=(5.09, 8.0), xt=[6, 7], xl=f0, ylim=(0.559, 0.640), yt=[0.56, 0.58, 0.60, 0.62], yl=f2),

    dict(kind='c', bars=(bw_bars_x, bw_bars_y), mean=bw_mean, reps=bw_reps, label=L10 + 'birth weight (g)',
         xlim=(-0.224, 1.69), xt=[0.0, 0.5, 1.0, 1.5], xl=f1, ylim=(0.574, 0.656), yt=[0.58, 0.60, 0.62, 0.64], yl=f2),
    dict(kind='c', bars=(fmass_bars_x, fmass_bars_y), mean=fmass_mean, reps=fmass_reps, label=L10 + 'fledging mass (g)',
         xlim=(0.77, 2.48), xt=[0.8, 1.2, 1.6, 2.0, 2.4], xl=f1, ylim=(0.499, 0.682), yt=[0.50, 0.55, 0.60, 0.65], yl=f2),
    dict(kind='c', bars=(egg_bars_x, egg_bars_y), mean=egg_mean, reps=egg_reps, label=L10 + 'egg mass (g)',
         xlim=(-0.3, 2.09), xt=[0.0, 0.5, 1.0, 1.5, 2.0], xl=f1, ylim=(0.576, 0.637), yt=[0.58, 0.60, 0.62], yl=f2),
    dict(kind='c', bars=(incub_bars_x, incub_bars_y), mean=incub_mean, reps=incub_reps, label='incubation time (days)',
         xlim=(8.6, 44.3), xt=[10, 20, 30, 40], xl=f0, ylim=(0.546, 0.633), yt=[0.56, 0.58, 0.60, 0.62], yl=f2),

    dict(kind='c', bars=(nblat_bars_x, nblat_bars_y), mean=nblat_mean, reps=nblat_reps, label='non-breeding latitude',
         xlim=(-35, 63), xt=[-20, 0, 20, 40, 60], xl=f0, ylim=(0.574, 0.6304), yt=[0.58, 0.60, 0.62], yl=f2,
         box=(42, 507, 252, 587)),
    dict(kind='c', bars=(evo_bars_x, evo_bars_y), mean=evo_mean, reps=evo_reps, label=L10 + 'evolutionary isolation',
         xlim=(-2.61, -0.99), xt=[-2.5, -2.0, -1.5, -1.0], xl=f1, ylim=(0.5825, 0.633),
         yt=[0.59, 0.60, 0.61, 0.62, 0.63], yl=f2),
    dict(kind='c', bars=(mdist_bars_x, mdist_bars_y), mean=mdist_mean, reps=mdist_reps,
         label=r'$\sqrt{\mathrm{migratory\ distance\ (km)}}$',
         xlim=(-4.3, 98.5), xt=[0, 25, 50, 75], xl=f0, ylim=(0.5725, 0.632),
         yt=[0.58, 0.59, 0.60, 0.61, 0.62, 0.63], yl=f2),
    dict(kind='d', pts=(popdec_pts_x, popdec_pts_y), mean=popdec_mean, rug=(rug_dense, rug_dense), rugc=(RUG_DARK, RUG_DARK),
         label='population decreasing', ylim=(0.542, 0.684), yt=[0.55, 0.60, 0.65], yl=f2),

    dict(kind='c', bars=(clutch_bars_x, clutch_bars_y), mean=clutch_mean, reps=clutch_reps, label='clutch size',
         xlim=(0.44, 14.16), xt=[5, 10], xl=f0, ylim=(0.5795, 0.6275), yt=[0.58, 0.59, 0.60, 0.61, 0.62], yl=f2),
    dict(kind='c', bars=(smat_bars_x, smat_bars_y), mean=smat_mean, reps=smat_reps,
         label=L10 + 'age of sexual maturity (days)',
         xlim=(2.21, 3.205), xt=[2.25, 2.5, 2.75, 3.0], xl=f2, ylim=(0.5895, 0.6297), yt=[0.59, 0.60, 0.61, 0.62], yl=f2),
    dict(kind='d', pts=(turdus_pts_x, turdus_pts_y), mean=turdus_mean, rug=(rug_dense, rug_sparse), rugc=(RUG_DARK, RUG_LIGHT),
         label=r'first phylofactor ($Turdus$)', ylim=(0.5645, 0.663), yt=[0.58, 0.60, 0.62, 0.64, 0.66], yl=f2),
    dict(kind='c', bars=(amass_bars_x, amass_bars_y), mean=amass_mean, reps=amass_reps, label=L10 + 'adult mass (g)',
         xlim=(0.55, 4.05), xt=[1, 2, 3], xl=f0, ylim=(0.5798, 0.6318),
         yt=[0.58, 0.59, 0.60, 0.61, 0.62, 0.63], yl=f2),

    dict(kind='c', bars=(cpy_bars_x, cpy_bars_y), mean=cpy_mean, reps=cpy_reps, label='clutches per year',
         xlim=(0.86, 4.09), xt=[1, 2, 3, 4], xl=f0, ylim=(0.5868, 0.6354), yt=[0.59, 0.60, 0.61, 0.62, 0.63], yl=f2),
    dict(kind='c', bars=(seeds_bars_x, seeds_bars_y), mean=seeds_mean, reps=seeds_reps, label='percent seeds in diet',
         xlim=(-3.8, 92), xt=[0, 25, 50, 75], xl=f0, ylim=(0.5867, 0.637), yt=[0.59, 0.60, 0.61, 0.62, 0.63], yl=f2),
    dict(kind='c', bars=(ground_bars_x, ground_bars_y), mean=ground_mean, reps=ground_reps, label='percent foraging on ground',
         xlim=(-4.5, 102.6), xt=[0, 25, 50, 75, 100], xl=f0, ylim=(0.577, 0.628), yt=[0.58, 0.59, 0.60, 0.61, 0.62], yl=f2),
    dict(kind='d', pts=(passer_pts_x, passer_pts_y), mean=passer_mean, rug=(rug_sparse, rug_dense), rugc=(RUG_LIGHT, RUG_DARK),
         label='Passeriformes', ylim=(0.5395, 0.659), yt=[0.54, 0.57, 0.60, 0.63], yl=f2),

    dict(kind='c', bars=(midhigh_bars_x, midhigh_bars_y), mean=midhigh_mean, reps=midhigh_reps,
         label='percent foraging in mid/high strata',
         xlim=(-5.9, 82.5), xt=[0, 20, 40, 60, 80], xl=f0, ylim=(0.5765, 0.6253), yt=[0.58, 0.59, 0.60, 0.61, 0.62], yl=f2),
    dict(kind='d', pts=(turdidae_pts_x, turdidae_pts_y), mean=turdidae_mean, rug=(rug_dense, rug_sparse), rugc=(RUG_DARK, RUG_LIGHT),
         label='Turdidae', ylim=(0.5633, 0.656), yt=[0.575, 0.600, 0.625, 0.650], yl=lambda v: ['%.3f' % t for t in v],
         box=(330, 976, 520, 1072)),
    dict(kind='c', bars=(invert_bars_x, invert_bars_y), mean=invert_mean, reps=invert_reps, label='percent invertebrates in diet',
         xlim=(6.1, 105), xt=[25, 50, 75, 100], xl=f0, ylim=(0.5805, 0.632), yt=[0.59, 0.60, 0.61, 0.62, 0.63], yl=f2),
    dict(kind='c', bars=(under_bars_x, under_bars_y), mean=under_mean, reps=under_reps, label='percent foraging in understory',
         xlim=(-4.3, 101), xt=[0, 25, 50, 75, 100], xl=f0, ylim=(0.581, 0.6326), yt=[0.59, 0.60, 0.61, 0.62, 0.63], yl=f2),
]

fig = plt.figure(figsize=(W / 100, H / 100), dpi=100)

for i, p in enumerate(panels):
    r, c = divmod(i, 4)
    l, t, rr, b = p.get('box', (col_left[c], row_top[r], col_right[c], row_bot[r]))
    ax = fig.add_axes([l / W, 1 - b / H, (rr - l) / W, (b - t) / H])
    ax.set_ylim(p['ylim'])
    if p['kind'] == 'c':
        ax.set_xlim(p['xlim'])
        bx, by = p['bars']
        ax.vlines(bx, p['ylim'][0], by, colors=BAR, lw=2.3, zorder=1)
        for rep in p['reps']:
            d = pd.DataFrame(rep, columns=['x', 'y'])
            sns.lineplot(data=d, x='x', y='y', ax=ax, color=GRAY, lw=1.9, sort=False, estimator=None, zorder=2)
        d = pd.DataFrame(p['mean'], columns=['x', 'y'])
        sns.lineplot(data=d, x='x', y='y', ax=ax, color='black', lw=5.6, sort=False, estimator=None, zorder=3,
                     solid_capstyle='butt')
        ax.set_xticks(p['xt'])
        ax.set_xticklabels(p['xl'](p['xt']))
    else:
        ax.set_xlim(-0.6, 1.6)
        for k in range(2):
            sns.rugplot(x=[k + o for o in p['rug'][k]], ax=ax, height=0.03, color=p['rugc'][k], lw=1.0,
                        alpha=0.7, clip_on=False)
        px, py = p['pts']
        sns.scatterplot(x=px, y=py, ax=ax, color=GRAY, s=24, edgecolor='none', zorder=3)
        sns.scatterplot(x=[0, 1], y=p['mean'], ax=ax, color='black', marker='s', s=55, edgecolor='none', zorder=4)
        ax.set_xticks([0, 1])
        ax.set_xticklabels(['0', '1'])
    ax.set_yticks(p['yt'])
    ax.set_yticklabels(p['yl'](p['yt']))
    ax.set_xlabel(p['label'], fontsize=10, color='#1a1a1a', labelpad=3)
    ax.set_ylabel('')
    ax.tick_params(axis='both', which='both', direction='out', length=3, width=0.8, color='#555555',
                   labelsize=9, labelcolor='#4d4d4d', pad=2, bottom=True, left=True)
    for s in ax.spines.values():
        s.set_color('#808080')
        s.set_linewidth(0.9)

fig.savefig('out.png', dpi=100, facecolor='white')
